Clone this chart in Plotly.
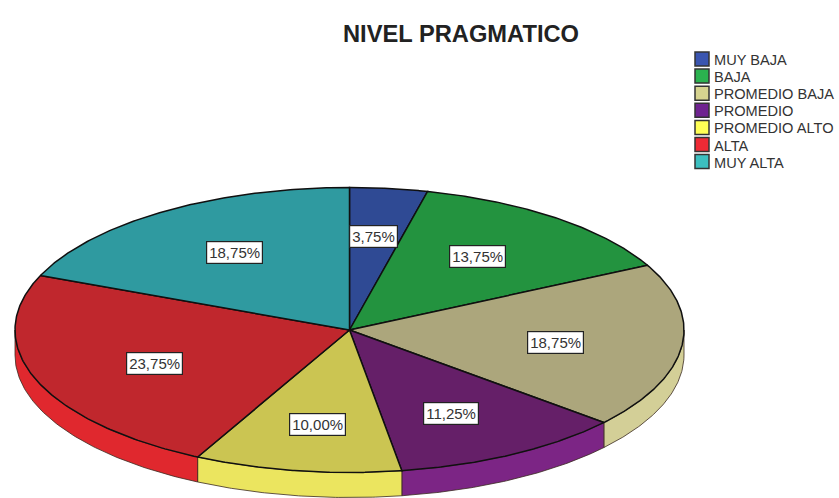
import numpy as np
import plotly.graph_objects as go

# Data
categories = ["MUY BAJA", "BAJA", "PROMEDIO BAJA", "PROMEDIO", "PROMEDIO ALTO", "ALTA", "MUY ALTA"]
values = [3.75, 13.75, 18.75, 11.25, 10.00, 23.75, 18.75]
title_text = "NIVEL PRAGMATICO"

# Style
top_colors = ["#2f4a94", "#23933f", "#aca67c", "#651f68", "#cbc552", "#c0272d", "#2f9aa0"]
side_colors = ["#3a55b0", "#2bb24f", "#d3cf97", "#7c2585", "#ebe55f", "#e0282e", "#3cbfc0"]
legend_colors = ["#3a55b0", "#2bb24f", "#d6d38f", "#6f2390", "#ffff55", "#ef2a35", "#3cbfc0"]
W, H = 839, 498
CX, CY, RX, RY, DEPTH = 349.5, 330.0, 334.5, 142.5, 25.0
LABEL_FX, LABEL_FY, LABEL_DY = 0.62, 0.665, 1.0
LEG_X, LEG_TEXT_X, LEG_Y0, LEG_DY = 702, 713, 60, 17.1
FONT = "Liberation Sans"


def ex(t):
    return CX + RX * np.sin(t)


def ey(t):
    return CY - RY * np.cos(t)


fig = go.Figure()
cum = np.concatenate([[0.0], np.cumsum(values)]) / sum(values) * 2 * np.pi

# Extruded side walls (front half only)
for i in range(len(values)):
    a = max(cum[i], np.pi / 2)
    b = min(cum[i + 1], 3 * np.pi / 2)
    if b <= a:
        continue
    t = np.linspace(a, b, 80)
    xs = np.concatenate([ex(t), ex(t[::-1])])
    ys = np.concatenate([ey(t), ey(t[::-1]) + DEPTH])
    fig.add_trace(go.Scatter(
        x=np.append(xs, xs[0]), y=np.append(ys, ys[0]), mode="lines", fill="toself",
        fillcolor=side_colors[i], line=dict(color="#3a2a20", width=0.8),
        hoverinfo="skip", showlegend=False))

# Top faces and value labels
annotations = []
for i, (name, v) in enumerate(zip(categories, values)):
    t = np.linspace(cum[i], cum[i + 1], 120)
    xs = np.concatenate([[CX], ex(t), [CX]])
    ys = np.concatenate([[CY], ey(t), [CY]])
    fig.add_trace(go.Scatter(
        x=xs, y=ys, mode="lines", fill="toself", fillcolor=top_colors[i],
        line=dict(color="#101010", width=1.5), name=name,
        hoverinfo="name", showlegend=False))
    mid = (cum[i] + cum[i + 1]) / 2
    annotations.append(dict(
        x=CX + LABEL_FX * RX * np.sin(mid),
        y=CY - LABEL_FY * RY * np.cos(mid) + LABEL_DY,
        xref="x", yref="y", text=f"{v:.2f}%".replace(".", ","), showarrow=False,
        font=dict(family=FONT, size=15, color="#333333"),
        bgcolor="white", bordercolor="#222222", borderwidth=1.2, borderpad=2))

# Legend, with the tight row pitch of the reference
rows = [LEG_Y0 + k * LEG_DY for k in range(len(categories))]
fig.add_trace(go.Scatter(
    x=[LEG_X] * len(categories), y=[r - 1 for r in rows], mode="markers",
    marker=dict(symbol="square", size=14, color=legend_colors, line=dict(color="#333333", width=1.5)),
    text=categories, hoverinfo="text", showlegend=False, cliponaxis=False))
for name, r in zip(categories, rows):
    annotations.append(dict(
        x=LEG_TEXT_X, y=r, xref="x", yref="y", text=name, showarrow=False,
        xanchor="left", yanchor="middle", xshift=-1,
        font=dict(family=FONT, size=14.6, color="#333333")))

fig.update_layout(
    width=W, height=H, autosize=False,
    margin=dict(l=0, r=0, t=0, b=0),
    paper_bgcolor="white", plot_bgcolor="white",
    showlegend=False,
    title=dict(text=f"<b>{title_text}</b>", x=461 / W, xanchor="center",
               y=1 - 34 / H, yanchor="middle",
               font=dict(family=FONT, size=23.7, color="#222222")),
    xaxis=dict(range=[0, W], visible=False, fixedrange=True),
    yaxis=dict(range=[H, 0], visible=False, fixedrange=True),
    annotations=annotations,
)

fig.write_html("out.html", config=dict(displayModeBar=False),
               post_script="document.body.style.margin='0';document.documentElement.style.overflow='hidden';")
